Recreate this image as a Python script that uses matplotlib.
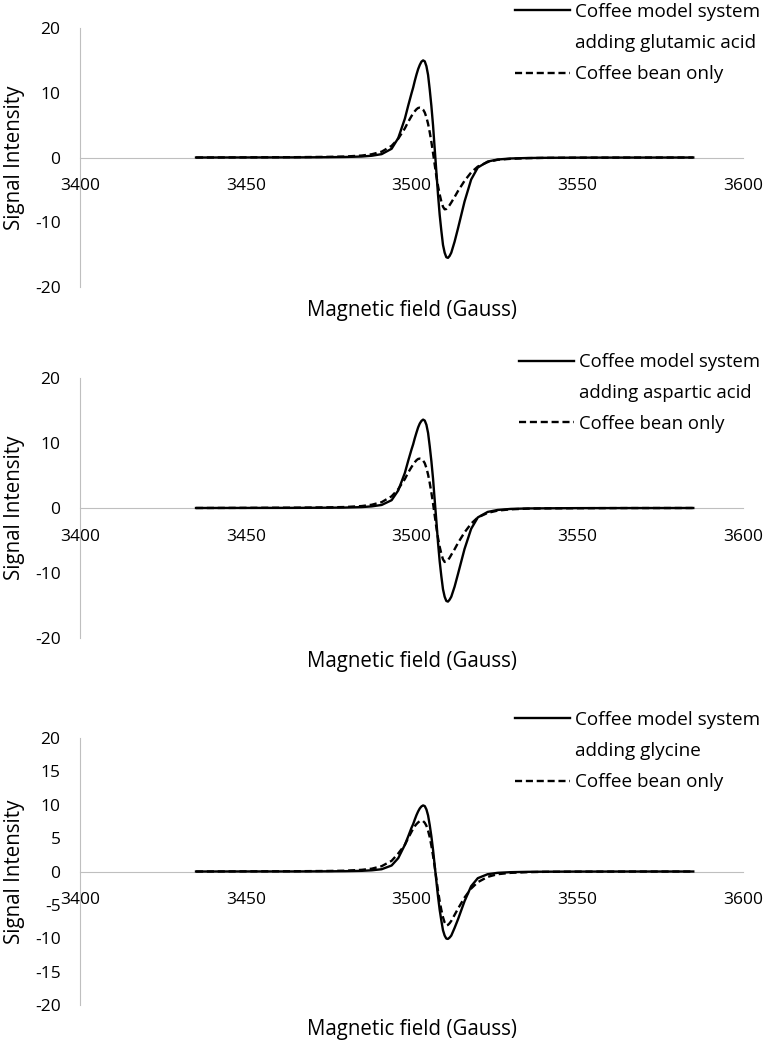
import matplotlib
matplotlib.use("Agg")
import matplotlib.pyplot as plt
from matplotlib.lines import Line2D

plt.rcParams['font.family'] = ['Open Sans', 'DejaVu Sans']
plt.rcParams['axes.unicode_minus'] = False

# magnetic field (Gauss) sample points
field = [3435, 3450, 3465, 3475, 3480, 3485, 3488, 3491, 3494, 3496, 3498,
         3499, 3500, 3500.5, 3501, 3501.5, 3502, 3502.5, 3503, 3503.5, 3504,
         3504.5, 3505, 3505.5, 3506, 3506.5, 3507, 3507.5, 3508, 3508.5, 3509,
         3509.5, 3510, 3510.5, 3511, 3511.5, 3512, 3513, 3514,
         3516, 3518, 3520, 3523, 3526, 3530, 3535, 3540, 3550, 3565, 3585]

# panel 1 - glutamic acid
glu_model = [0.0, 0.01, 0.02, 0.05, 0.08, 0.15, 0.27, 0.52, 1.35, 3.0, 6.0,
             8.0, 9.9, 10.8, 11.85, 12.8, 13.65, 14.3, 14.8, 15.0, 14.85,
             14.1, 12.75, 10.5, 7.95, 4.95, 1.35, -2.2, -5.75, -8.85, -11.3,
             -13.5, -14.7, -15.4, -15.5, -15.2, -14.7, -13.0, -11.0,
             -6.8, -3.4, -1.55, -0.62, -0.31, -0.15, -0.08, -0.05, -0.02, -0.01, 0.0]
glu_bean = [0.0, 0.02, 0.05, 0.1, 0.15, 0.3, 0.5, 0.9, 1.8, 2.9, 4.5,
            5.5, 6.4, 6.8, 7.15, 7.45, 7.65, 7.7, 7.65, 7.4, 6.95,
            6.2, 5.2, 3.9, 2.4, 0.7, -1.1, -2.9, -4.4, -5.7, -6.8,
            -7.6, -8.0, -7.95, -7.7, -7.35, -6.95, -6.1, -5.2,
            -3.6, -2.3, -1.4, -0.7, -0.35, -0.2, -0.1, -0.06, -0.03, -0.01, 0.0]

# panel 2 - aspartic acid
asp_model = [0.0, 0.01, 0.02, 0.05, 0.07, 0.14, 0.25, 0.47, 1.2, 2.7, 5.4,
             7.25, 9.0, 9.8, 10.75, 11.6, 12.4, 13.0, 13.4, 13.6, 13.45,
             12.8, 11.55, 9.5, 7.2, 4.5, 1.2, -2.0, -5.35, -8.2, -10.5,
             -12.5, -13.65, -14.3, -14.4, -14.1, -13.65, -12.1, -10.2,
             -6.3, -3.2, -1.45, -0.6, -0.3, -0.14, -0.07, -0.05, -0.02, -0.01, 0.0]
asp_bean = [0.0, 0.02, 0.05, 0.1, 0.15, 0.3, 0.5, 0.9, 1.8, 2.9, 4.45,
            5.45, 6.3, 6.7, 7.05, 7.35, 7.55, 7.6, 7.55, 7.3, 6.9,
            6.15, 5.15, 3.85, 2.35, 0.7, -1.15, -3.0, -4.6, -5.95, -7.05,
            -7.9, -8.3, -8.25, -8.0, -7.65, -7.2, -6.35, -5.4,
            -3.75, -2.4, -1.45, -0.75, -0.4, -0.2, -0.1, -0.06, -0.03, -0.01, 0.0]

# panel 3 - glycine
gly_model = [0.0, 0.01, 0.01, 0.03, 0.05, 0.1, 0.18, 0.34, 0.9, 2.0, 4.0,
             5.25, 6.55, 7.1, 7.8, 8.45, 9.0, 9.45, 9.75, 9.9, 9.8,
             9.3, 8.4, 6.95, 5.25, 3.25, 0.9, -1.45, -3.75, -5.75, -7.35,
             -8.8, -9.6, -10.05, -10.1, -9.9, -9.6, -8.45, -7.2,
             -4.45, -2.2, -1.0, -0.4, -0.2, -0.1, -0.05, -0.03, -0.01, 0.0, 0.0]
gly_bean = [0.0, 0.02, 0.04, 0.08, 0.12, 0.25, 0.42, 0.8, 1.6, 2.7, 4.0,
            5.0, 5.95, 6.4, 6.8, 7.1, 7.35, 7.55, 7.6, 7.55, 7.3,
            6.85, 6.1, 5.15, 3.85, 2.35, 0.7, -1.1, -2.9, -4.45, -5.75,
            -6.85, -7.65, -8.1, -8.0, -7.75, -7.4, -6.5, -5.6,
            -3.9, -2.55, -1.6, -0.8, -0.4, -0.2, -0.1, -0.05, -0.02, -0.01, 0.0]

labels_model = ["Coffee model system", "Coffee model system", "Coffee model system"]
labels_added = ["adding glutamic acid", "adding aspartic acid", "adding glycine"]
label_bean = "Coffee bean only"
xticks = [3400, 3450, 3500, 3550, 3600]
yticks_list = [[-20, -10, 0, 10, 20], [-20, -10, 0, 10, 20],
               [-20, -15, -10, -5, 0, 5, 10, 15, 20]]

W, H = 765, 1040
fig = plt.figure(figsize=(W / 100, H / 100), dpi=100)

# axes boxes in pixels: (y of 20, y of -20)
boxes = [(28, 287), (378, 638), (738, 1005)]
legend_pos = [(515, 3), (519, 353), (515, 711)]
legend_size = [13.6, 13.3, 13.6]
gray = '#BFBFBF'
dash = (0, (3, 1.6))

panels = [(glu_model, glu_bean), (asp_model, asp_bean), (gly_model, gly_bean)]
for i, (model, bean) in enumerate(panels):
    top, bot = boxes[i]
    ax = fig.add_axes([80 / W, 1 - bot / H, (743 - 80) / W, (bot - top) / H])
    ax.plot(field, model, color='black', lw=1.7, solid_joinstyle='round')
    ax.plot(field, bean, color='black', lw=1.7, linestyle=dash)
    ax.set_xlim(3400, 3600)
    ax.set_ylim(-20, 20)
    ax.set_xticks(xticks)
    ax.set_yticks(yticks_list[i])
    ax.spines['top'].set_visible(False)
    ax.spines['right'].set_visible(False)
    ax.spines['bottom'].set_position(('data', 0))
    ax.spines['bottom'].set_color(gray)
    ax.spines['left'].set_color(gray)
    ax.spines['bottom'].set_zorder(0)
    ax.tick_params(axis='x', length=0, pad=15, labelsize=12.5)
    ax.tick_params(axis='y', length=0, pad=14, labelsize=12.5)
    ax.set_ylabel("Signal Intensity", fontsize=14.8)
    ax.yaxis.set_label_coords(-0.083, 0.5)
    ax.text(0.5, -0.09, "Magnetic field (Gauss)", transform=ax.transAxes,
            ha='center', va='center', fontsize=14.8)

    handles = [Line2D([], [], color='black', lw=1.7),
               Line2D([], [], color='none'),
               Line2D([], [], color='black', lw=1.7, linestyle=dash)]
    lx, ly = legend_pos[i]
    fs = legend_size[i]
    ax.legend(handles, [labels_model[i], labels_added[i], label_bean],
              loc='upper left', bbox_to_anchor=(lx / W, 1 - ly / H),
              bbox_transform=fig.transFigure, frameon=False, fontsize=fs,
              handlelength=55 / (fs * 100 / 72), handletextpad=0.26,
              labelspacing=0.7, borderpad=0, borderaxespad=0)

fig.savefig("out.png", dpi=100)
